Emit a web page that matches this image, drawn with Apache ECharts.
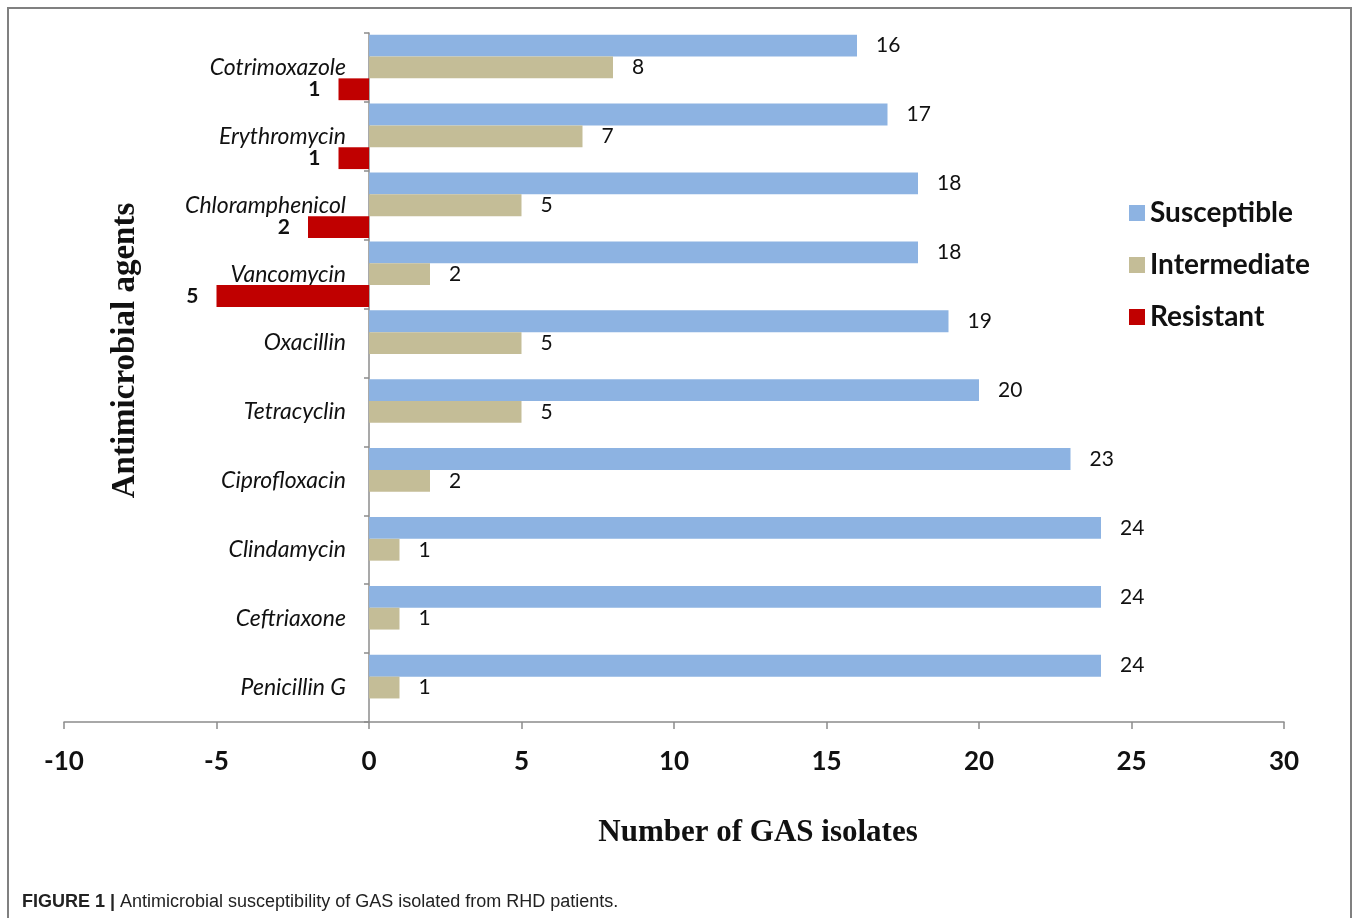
<!DOCTYPE html>
<html lang="en">
<head>
    <meta charset="UTF-8">
    <script src="https://cdn.jsdelivr.net/npm/echarts@6/dist/echarts.min.js"></script>
    <style>
        html, body { margin: 0; padding: 0; background: #fff; }
        #chart { width: 1358px; height: 918px; }
    </style>
</head>
<body>
    <div id="chart"></div>
    <script>
        // data
        const agents = ['Cotrimoxazole', 'Erythromycin', 'Chloramphenicol', 'Vancomycin', 'Oxacillin',
                        'Tetracyclin', 'Ciprofloxacin', 'Clindamycin', 'Ceftriaxone', 'Penicillin G'];
        const susceptible = [16, 17, 18, 18, 19, 20, 23, 24, 24, 24];
        const intermediate = [8, 7, 5, 2, 5, 5, 2, 1, 1, 1];
        // resistant counts are drawn to the left of zero
        const resistant = [-1, -1, -2, -5, null, null, null, null, null, null];
        const xTicks = { min: -10, max: 30, step: 5 };

        const chart = echarts.init(document.getElementById('chart'));

        const labelFont = 'Lato, "Open Sans", sans-serif';
        const serif = '"Liberation Serif", "DejaVu Serif", serif';

        const option = {
            animation: false,
            grid: { left: 64, right: 74, top: 33, bottom: 196, containLabel: false, outerBoundsMode: 'none' },
            legend: {
                orient: 'vertical',
                left: 1124,
                top: 194,
                itemWidth: 16,
                itemHeight: 16,
                itemGap: 24,
                icon: 'rect',
                textStyle: { fontFamily: labelFont, fontSize: 28, fontWeight: 'bold', color: '#111' },
                data: ['Susceptible', 'Intermediate', 'Resistant']
            },
            xAxis: {
                type: 'value',
                min: xTicks.min,
                max: xTicks.max,
                interval: xTicks.step,
                splitLine: { show: false },
                axisLine: { show: true, lineStyle: { color: '#8c8c8c', width: 1.5 } },
                axisTick: { show: true, length: 7, lineStyle: { color: '#8c8c8c', width: 1.5 } },
                axisLabel: { margin: 27, fontFamily: labelFont, fontSize: 26, fontWeight: 'bold', color: '#111' },
                name: 'Number of GAS isolates',
                nameLocation: 'middle',
                nameGap: 95,
                nameTextStyle: {
                    fontFamily: serif, fontSize: 31, fontWeight: 'bold', color: '#111',
                    padding: [0, 0, 0, 168]
                }
            },
            yAxis: {
                type: 'category',
                data: agents,
                inverse: true,
                // pull labels and name over to the zero line
                offset: -304,
                axisLine: { show: true, onZero: true, lineStyle: { color: '#8c8c8c', width: 1.5 } },
                axisTick: { show: true, length: 5, inside: false, lineStyle: { color: '#8c8c8c', width: 1.5 } },
                axisLabel: { margin: 22, fontFamily: labelFont, fontSize: 23, fontStyle: 'italic', color: '#111' },
                name: 'Antimicrobial agents',
                nameLocation: 'middle',
                nameGap: 226,
                nameTextStyle: {
                    fontFamily: serif, fontSize: 33, fontWeight: 'bold', color: '#111',
                    padding: [0, 0, 0, 54]
                }
            },
            series: [
                {
                    name: 'Susceptible',
                    type: 'bar',
                    data: susceptible,
                    barGap: '0%',
                    barCategoryGap: '5%',
                    itemStyle: { color: '#8db3e2' },
                    label: { show: true, position: 'right', distance: 19, fontFamily: labelFont, fontSize: 21, color: '#111' }
                },
                {
                    name: 'Intermediate',
                    type: 'bar',
                    data: intermediate,
                    barGap: '0%',
                    barCategoryGap: '5%',
                    itemStyle: { color: '#c4bd97' },
                    label: { show: true, position: 'right', distance: 19, fontFamily: labelFont, fontSize: 21, color: '#111' }
                },
                {
                    name: 'Resistant',
                    type: 'bar',
                    data: resistant,
                    barGap: '0%',
                    barCategoryGap: '5%',
                    itemStyle: { color: '#c00000' },
                    label: {
                        show: true, position: 'left', distance: 18,
                        fontFamily: labelFont, fontSize: 21, fontWeight: 'bold', color: '#111',
                        formatter: function (p) { return Math.abs(p.value); }
                    }
                }
            ],
            graphic: [
                {
                    type: 'rect',
                    shape: { x: 8, y: 8, width: 1343, height: 960 },
                    style: { fill: null, stroke: '#808080', lineWidth: 2 },
                    silent: true
                },
                {
                    type: 'text',
                    left: 22,
                    top: 893,
                    style: {
                        text: '{b|FIGURE 1 |} Antimicrobial susceptibility of GAS isolated from RHD patients.',
                        rich: {
                            b: { fontWeight: 'bold', fontFamily: '"Liberation Sans Narrow", "Liberation Sans", sans-serif', fontSize: 18, fill: '#222' }
                        },
                        fontFamily: '"Liberation Sans Narrow", "Liberation Sans", sans-serif',
                        fontSize: 18,
                        fill: '#222'
                    }
                }
            ]
        };

        chart.setOption(option);
    </script>
</body>
</html>
